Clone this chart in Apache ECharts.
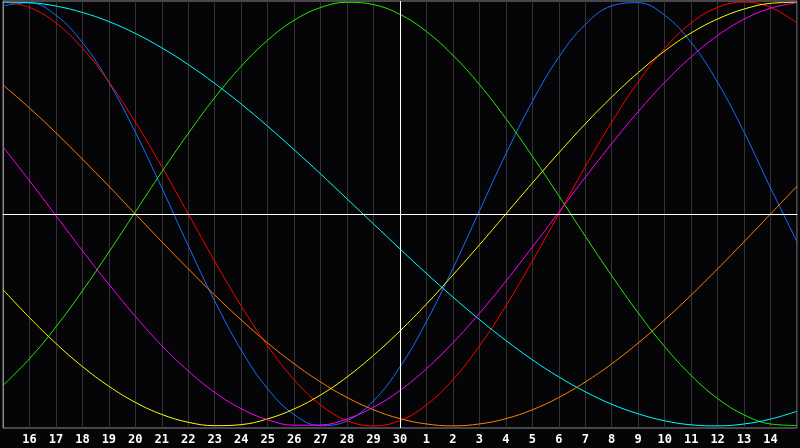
<!DOCTYPE html>
<html>
<head>
<meta charset="utf-8">
<script src="https://cdn.jsdelivr.net/npm/echarts@6/dist/echarts.min.js"></script>
<style>
html, body { margin: 0; padding: 0; background: #050508; }
#chart { width: 800px; height: 448px; }
</style>
</head>
<body>
<div id="chart"></div>
<script>
// 日期标签（第0格为上月15日，第15格为今天30日）
var dayLabels = ['15','16','17','18','19','20','21','22','23','24','25','26','27','28','29','30',
	'1','2','3','4','5','6','7','8','9','10','11','12','13','14','15'];
var todayIndex = 15;

// 各周期曲线，每天一个值（-1 ~ 1）
var physical = [0.982,0.997,0.938,0.809,0.621,0.386,0.123,-0.150,-0.411,-0.642,-0.825,-0.947,-0.999,-0.976,-0.882,-0.722,
	-0.508,-0.257,0.014,0.283,0.531,0.740,0.894,0.982,0.997,0.938,0.809,0.621,0.386,0.123,-0.130];
var emotional = [1.000,0.975,0.901,0.782,0.623,0.434,0.223,0.000,-0.223,-0.434,-0.623,-0.782,-0.901,-0.975,-1.000,-0.975,
	-0.901,-0.782,-0.623,-0.434,-0.223,0.000,0.223,0.434,0.623,0.782,0.901,0.975,1.000,0.975,0.901];
var intellectual = [-0.809,-0.683,-0.533,-0.363,-0.180,0.010,0.199,0.380,0.549,0.697,0.820,0.914,0.974,0.999,0.988,0.942,
	0.861,0.749,0.611,0.450,0.273,0.086,-0.105,-0.291,-0.467,-0.626,-0.762,-0.871,-0.948,-0.991,-0.998];
var spiritual = [0.999,0.997,0.981,0.951,0.908,0.852,0.784,0.705,0.616,0.519,0.414,0.303,0.189,0.071,-0.047,-0.165,
	-0.281,-0.392,-0.498,-0.597,-0.688,-0.769,-0.839,-0.898,-0.943,-0.976,-0.995,-1.000,-0.991,-0.968,-0.931];
var awareness = [0.609,0.500,0.383,0.259,0.131,0.000,-0.131,-0.259,-0.383,-0.500,-0.609,-0.707,-0.793,-0.866,-0.924,-0.966,
	-0.991,-1.000,-0.991,-0.966,-0.924,-0.866,-0.793,-0.707,-0.609,-0.500,-0.383,-0.259,-0.131,0.000,0.131];
var aesthetic = [-0.357,-0.489,-0.611,-0.720,-0.813,-0.889,-0.946,-0.983,-0.999,-0.994,-0.967,-0.920,-0.854,-0.769,-0.667,-0.552,
	-0.425,-0.288,-0.146,0.000,0.146,0.288,0.425,0.552,0.667,0.769,0.854,0.920,0.967,0.994,0.999];
var intuitive = [0.317,0.157,-0.008,-0.173,-0.332,-0.483,-0.621,-0.741,-0.842,-0.919,-0.971,-0.997,-0.996,-0.967,-0.912,-0.833,
	-0.730,-0.608,-0.469,-0.317,-0.156,0.008,0.173,0.332,0.483,0.621,0.741,0.842,0.919,0.971,0.997];

var seriesNames = ['physical','emotional','intellectual','spiritual','awareness','aesthetic','intuitive'];
var seriesData = [physical, emotional, intellectual, spiritual, awareness, aesthetic, intuitive];
var seriesColors = ['#1a6cff','#ff0000','#22ee00','#00ffff','#ff8000','#ffff00','#ff00ff'];

var chart = echarts.init(document.getElementById('chart'));

var series = [];
$each = function(arr, fn) { for (var i = 0; i < arr.length; i++) fn(arr[i], i); };
$each(seriesData, function(vals, k) {
	var pts = [];
	$each(vals, function(v, i) { pts.push([i, v]); });
	series.push({
		name: seriesNames[k],
		type: 'line',
		smooth: 0.4,
		symbol: 'none',
		lineStyle: { color: seriesColors[k], width: 1 },
		data: pts
	});
});

// 今天竖线 + 零线
series[0].markLine = {
	silent: true,
	symbol: 'none',
	label: { show: false },
	lineStyle: { color: '#ffffff', width: 1, type: 'solid' },
	data: [ { xAxis: todayIndex }, { yAxis: 0 } ]
};

var option = {
	backgroundColor: '#050508',
	animation: false,
	grid: {
		left: 1, right: -2, top: 1, bottom: 20,
		show: true,
		borderColor: '#8a8a8a',
		borderWidth: 1
	},
	xAxis: {
		type: 'value',
		min: 0,
		max: dayLabels.length - 1,
		interval: 1,
		axisLine: { show: true, lineStyle: { color: '#9a9a9a', width: 1 } },
		axisTick: { show: false },
		splitLine: { show: true, lineStyle: { color: '#333333', width: 1 } },
		axisLabel: {
			color: '#ffffff',
			fontFamily: 'DejaVu Sans Mono',
			fontWeight: 'bold',
			fontSize: 12,
			margin: 6,
			formatter: function(v) {
				if (v <= 0 || v >= dayLabels.length - 1) return '';
				return dayLabels[v];
			}
		}
	},
	yAxis: {
		type: 'value',
		min: -1.01,
		max: 1.005,
		axisLine: { show: true, lineStyle: { color: '#8a8a8a', width: 1 } },
		axisTick: { show: false },
		axisLabel: { show: false },
		splitLine: { show: false }
	},
	series: series
};
chart.setOption(option);
</script>
</body>
</html>
